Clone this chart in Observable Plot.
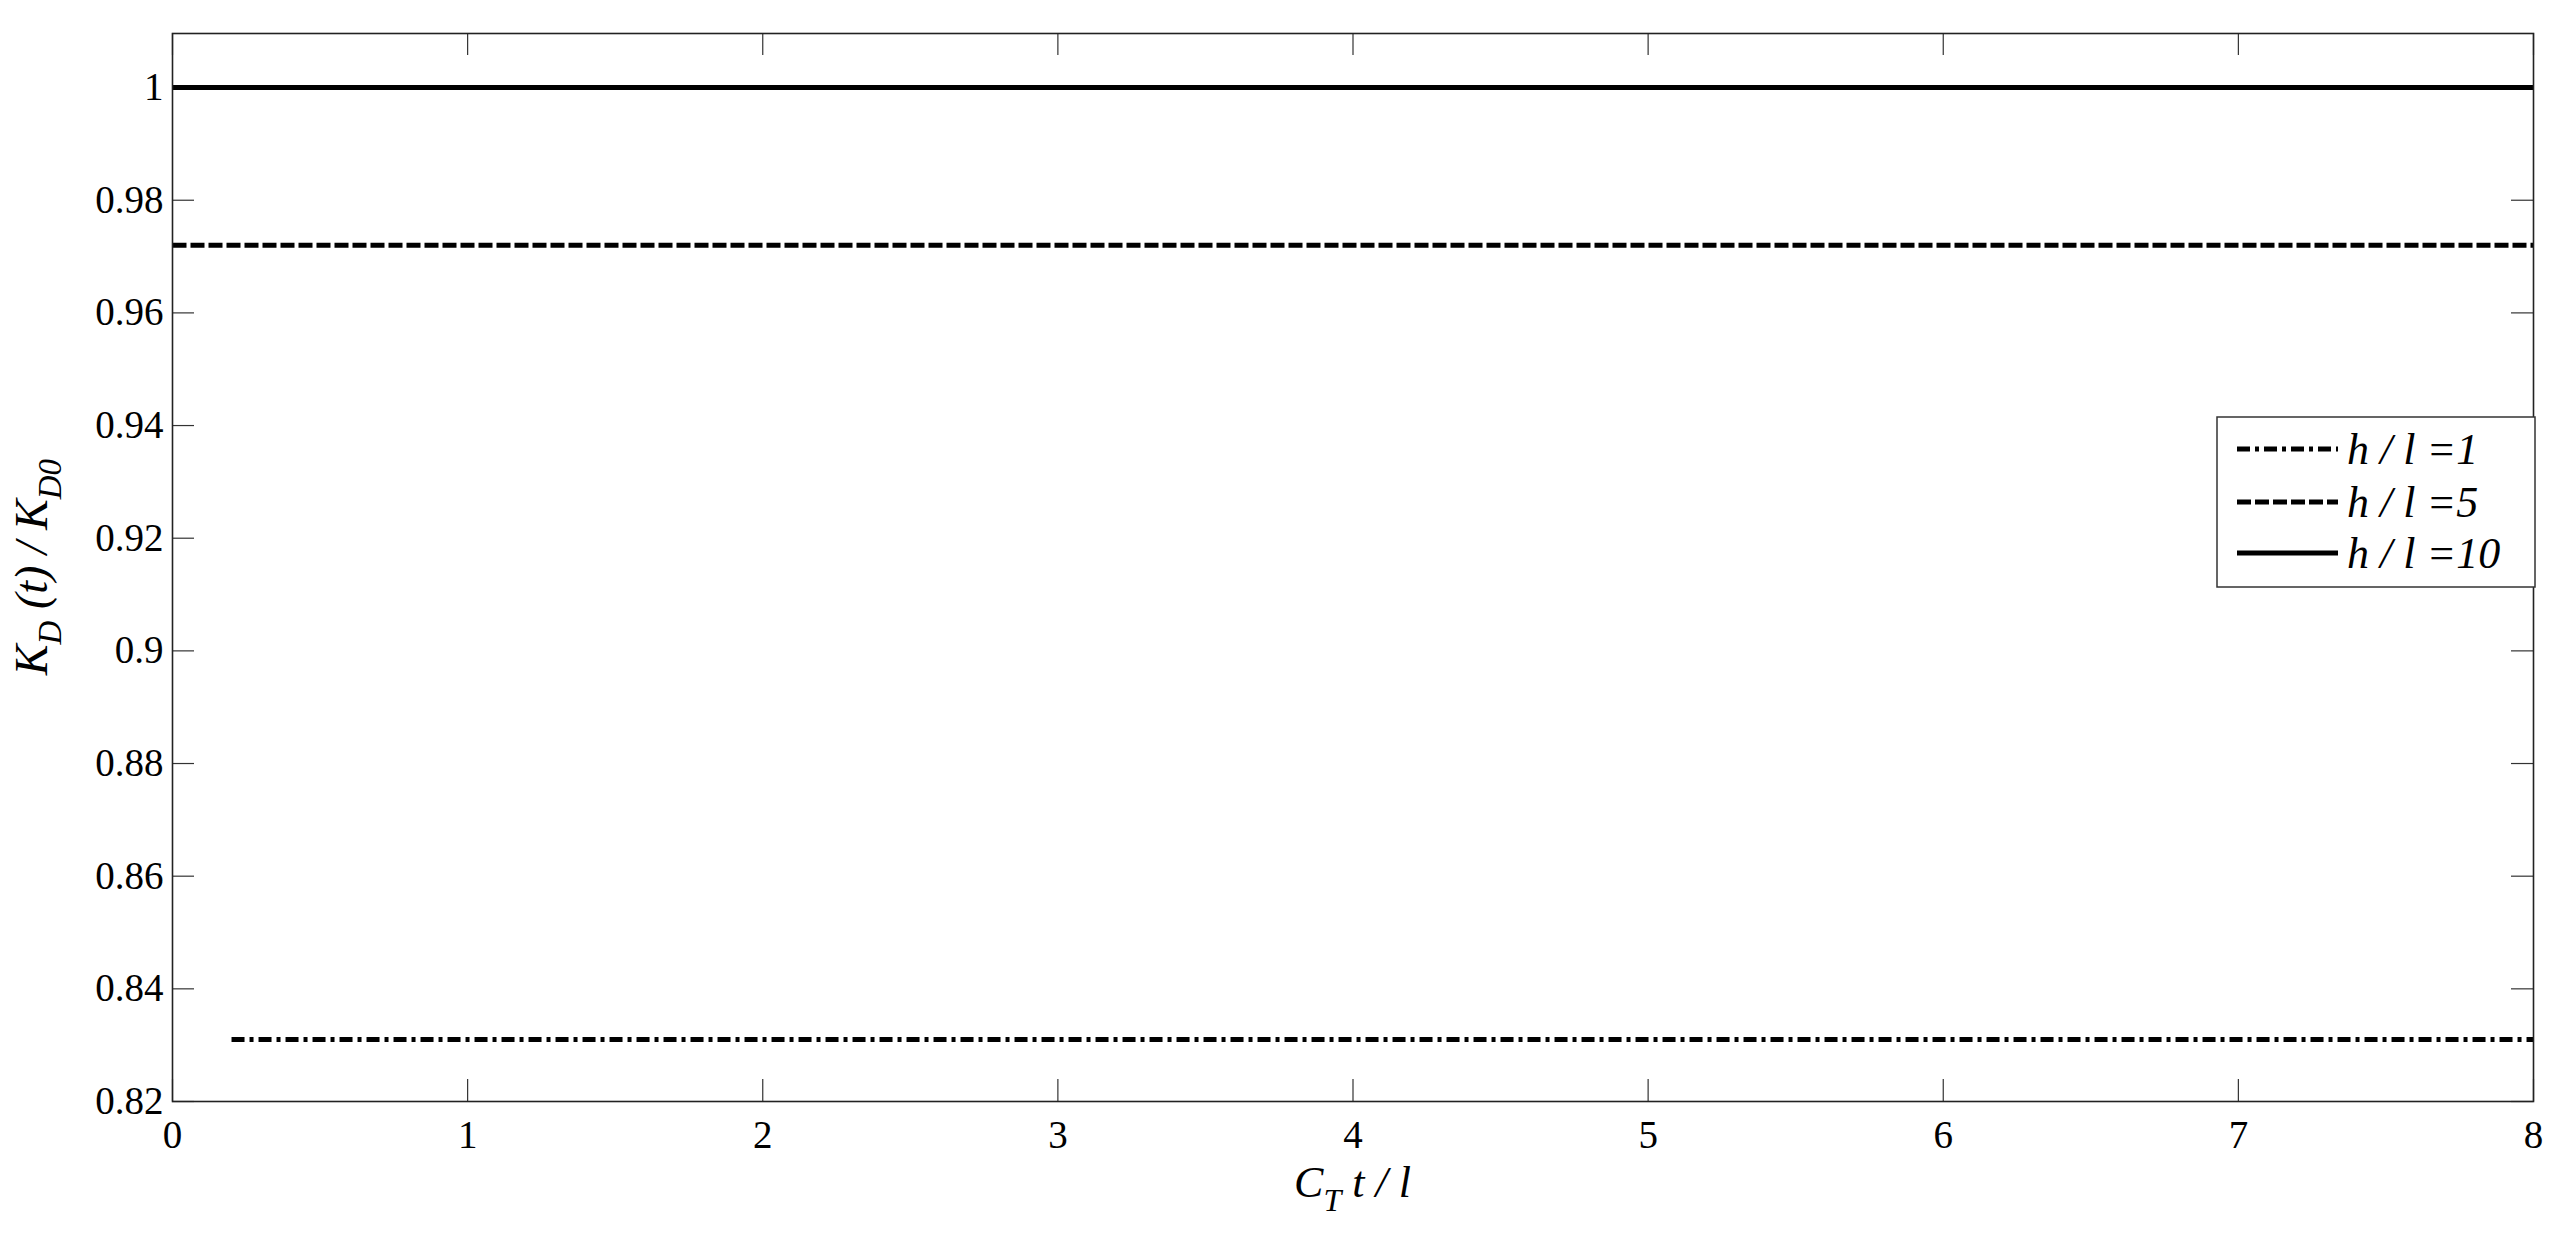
<!DOCTYPE html>
<html><head><meta charset="utf-8">
<script src="https://cdn.jsdelivr.net/npm/d3@7"></script>
<script src="https://cdn.jsdelivr.net/npm/@observablehq/plot@0.6"></script>
<style>body{margin:0;background:#fff} svg{display:block}</style>
</head><body><div id="chart"></div>
<script>
// ---- data ----
const seriesLabels = ["h / l =1", "h / l =5", "h / l =10"];
const seriesValues = [0.831, 0.972, 1.0];
const seriesStart = [0.2, 0, 0];
const seriesEnd = [8, 8, 8];
const seriesDash = ["13,5,4,5", "14,4", null];
const xTicks = [0, 1, 2, 3, 4, 5, 6, 7, 8];
const yTicks = [0.82, 0.84, 0.86, 0.88, 0.9, 0.92, 0.94, 0.96, 0.98, 1];
const xDomain = [0, 8];
const yDomain = [0.82, 1.0096];

// ---- layout ----
const W = 2559, H = 1236, mL = 172, mR = 26, mT = 33, mB = 135;
const fh = H - mT - mB, fw = W - mL - mR, tl = 22;
const font = "Liberation Serif, Times New Roman, serif";

const lineMarks = seriesLabels.map((s, i) =>
  Plot.line([{x: seriesStart[i], y: seriesValues[i]}, {x: seriesEnd[i], y: seriesValues[i]}],
    {x: "x", y: "y", stroke: "#000", strokeWidth: 5, strokeDasharray: seriesDash[i] ?? undefined, strokeLinecap: "butt"}));

const svg = Plot.plot({
  width: W, height: H,
  marginLeft: mL, marginRight: mR, marginTop: mT, marginBottom: mB,
  style: {fontFamily: font, fontSize: "39px", background: "#fff", color: "#000"},
  x: {domain: xDomain, ticks: xTicks, label: null},
  y: {domain: yDomain, ticks: yTicks, label: null},
  marks: [
    Plot.axisX({ticks: xTicks, tickSize: 0, tickPadding: 19, tickFormat: d => String(d), fontSize: 39}),
    Plot.axisY({ticks: yTicks, tickSize: 0, tickPadding: 9, tickFormat: d => String(+d.toFixed(2)), fontSize: 39}),
    Plot.tickX(xTicks, {x: d => d, insetTop: fh - tl, stroke: "#333", strokeWidth: 1.2}),
    Plot.tickX(xTicks, {x: d => d, insetBottom: fh - tl, stroke: "#333", strokeWidth: 1.2}),
    Plot.tickY(yTicks, {y: d => d, insetRight: fw - tl, stroke: "#333", strokeWidth: 1.2}),
    Plot.tickY(yTicks, {y: d => d, insetLeft: fw - tl, stroke: "#333", strokeWidth: 1.2}),
    ...lineMarks,
    Plot.frame({stroke: "#222", strokeWidth: 1.6})
  ]
});

const s = d3.select(svg);
// x label
const xl = s.append("text").attr("x", mL + fw / 2).attr("y", 1197).attr("text-anchor", "middle")
  .attr("font-family", font).attr("font-style", "italic").attr("font-size", 44).attr("fill", "#000");
xl.append("tspan").text("C");
xl.append("tspan").attr("dy", 14).attr("font-size", 32).text("T");
xl.append("tspan").attr("dy", -14).text(" t / l");

// y label
const yl = s.append("text").attr("transform", `translate(47,${mT + fh / 2}) rotate(-90)`).attr("text-anchor", "middle")
  .attr("font-family", font).attr("font-style", "italic").attr("font-size", 46).attr("fill", "#000");
yl.append("tspan").text("K");
yl.append("tspan").attr("dy", 14).attr("font-size", 33).text("D");
yl.append("tspan").attr("dy", -14).text(" (t) / K");
yl.append("tspan").attr("dy", 14).attr("font-size", 33).text("D0");

// legend
const lx = 2217, ly = 417, lw = 318, lh = 170;
const lg = s.append("g");
lg.append("rect").attr("x", lx).attr("y", ly).attr("width", lw).attr("height", lh)
  .attr("fill", "#fff").attr("stroke", "#333").attr("stroke-width", 1.5);
const rowY = [449, 502, 553];
seriesLabels.forEach((lab, i) => {
  lg.append("line").attr("x1", 2237).attr("x2", 2338).attr("y1", rowY[i]).attr("y2", rowY[i])
    .attr("stroke", "#000").attr("stroke-width", 5).attr("stroke-dasharray", seriesDash[i] ?? null);
  lg.append("text").attr("x", 2347).attr("y", rowY[i] + 15).attr("text-anchor", "start")
    .attr("font-family", font).attr("font-style", "italic").attr("font-size", 44)
    .attr("fill", "#000").text(lab);
});

document.getElementById("chart").appendChild(svg);
</script>
</body></html>
